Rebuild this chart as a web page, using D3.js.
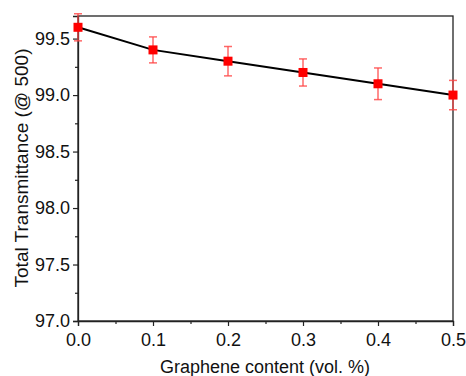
<!DOCTYPE html>
<html>
<head>
<meta charset="utf-8">
<script src="https://cdn.jsdelivr.net/npm/d3@7"></script>
<style>
  body { margin: 0; background: #fff; }
  text { font-family: "Liberation Sans", Arial, sans-serif; }
</style>
</head>
<body>
<div id="svg-holder"></div>
<script>
// data
let content = [0.0, 0.1, 0.2, 0.3, 0.4, 0.5];
let transmittance = [99.6, 99.4, 99.3, 99.2, 99.1, 99.0];
let errors = [0.12, 0.115, 0.13, 0.12, 0.14, 0.13];
let xTicks = [0.0, 0.1, 0.2, 0.3, 0.4, 0.5];
let yTicks = [97.0, 97.5, 98.0, 98.5, 99.0, 99.5];

let W = 466, H = 376;
let mLeft = 78, mRight = 453, mTop = 16, mBottom = 321;

let svg = d3.select("#svg-holder").append('svg')
  .attr("width", W)
  .attr("height", H);

let x = d3.scaleLinear().domain([0, 0.5]).range([mLeft, mRight]);
let y = d3.scaleLinear().domain([97, 99.7]).range([mBottom, mTop]);

// frame
svg.append("rect")
  .attr("x", mLeft).attr("y", mTop)
  .attr("width", mRight - mLeft).attr("height", mBottom - mTop)
  .attr("fill", "none")
  .attr("stroke", "#222")
  .attr("stroke-width", 1.3);

// x axis
svg.append("g").attr("transform", `translate(0,${mBottom})`)
  .call(d3.axisBottom(x).tickValues(xTicks).tickFormat(d3.format(".1f")).tickSize(5).tickPadding(7));
svg.append("g").attr("transform", `translate(0,${mBottom})`)
  .call(d3.axisBottom(x).tickValues(d3.range(0.05, 0.5, 0.1)).tickFormat("").tickSize(3))
  .select(".domain").remove();

// y axis
svg.append("g").attr("transform", `translate(${mLeft},0)`)
  .call(d3.axisLeft(y).tickValues(yTicks).tickFormat(d3.format(".1f")).tickSize(5).tickPadding(3));
svg.append("g").attr("transform", `translate(${mLeft},0)`)
  .call(d3.axisLeft(y).tickValues(d3.range(97.25, 99.7, 0.5)).tickFormat("").tickSize(3))
  .select(".domain").remove();

svg.selectAll(".domain").attr("stroke", "#222").attr("stroke-width", 1.3);
svg.selectAll(".tick line").attr("stroke", "#222").attr("stroke-width", 1.2);
svg.selectAll(".tick text").attr("font-size", 18).attr("fill", "#111")
  .attr("font-family", '"Liberation Sans", Arial, sans-serif');

// axis titles
svg.append("text")
  .attr("x", 265).attr("y", 373)
  .attr("text-anchor", "middle")
  .attr("font-size", 18)
  .attr("fill", "#111")
  .text("Graphene content (vol. %)");

svg.append("text")
  .attr("transform", "translate(28,168) rotate(-90)")
  .attr("text-anchor", "middle")
  .attr("font-size", 19)
  .attr("fill", "#111")
  .text("Total Transmittance (@ 500)");

let pts = content.map((c, i) => ({ x: c, y: transmittance[i], e: errors[i] }));

// line
svg.append("path")
  .datum(pts)
  .attr("d", d3.line().x(d => x(d.x)).y(d => y(d.y)))
  .attr("fill", "none")
  .attr("stroke", "#000")
  .attr("stroke-width", 2);

// error bars
let eb = svg.append("g").attr("stroke", "#f44").attr("stroke-width", 1.5).attr("stroke-opacity", 0.8);
pts.forEach(d => {
  eb.append("line")
    .attr("x1", x(d.x)).attr("x2", x(d.x))
    .attr("y1", y(d.y - d.e)).attr("y2", y(d.y + d.e));
  [d.y - d.e, d.y + d.e].forEach(v => {
    eb.append("line")
      .attr("x1", x(d.x) - 4).attr("x2", x(d.x) + 4)
      .attr("y1", y(v)).attr("y2", y(v));
  });
});

// markers
svg.selectAll("rect.pt")
  .data(pts)
  .enter()
  .append("rect")
  .attr("class", "pt")
  .attr("x", d => x(d.x) - 4.5)
  .attr("y", d => y(d.y) - 4.5)
  .attr('width', 9)
  .attr('height', 9)
  .attr('fill', 'red');
</script>
</body>
</html>
